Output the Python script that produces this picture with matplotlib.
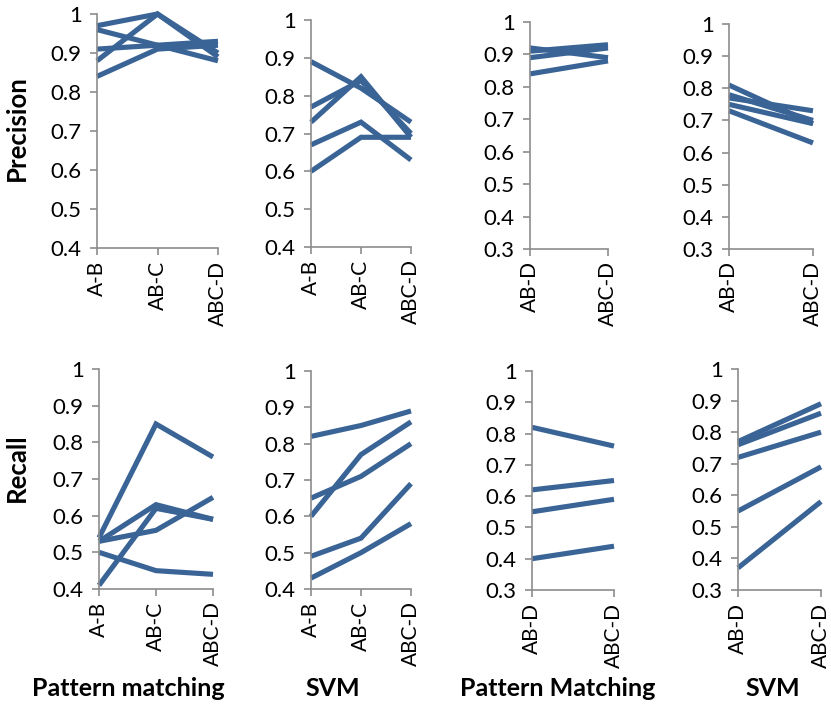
import matplotlib
matplotlib.use("Agg")
import matplotlib.pyplot as plt

plt.rcParams['font.family'] = ['Lato', 'DejaVu Sans']

# categories
cats3 = ['A-B', 'AB-C', 'ABC-D']
cats2 = ['AB-D', 'ABC-D']

# precision, pattern matching (3 steps)
prec_pm3 = [[0.97, 1.00, 0.90],
            [0.96, 0.92, 0.88],
            [0.91, 0.92, 0.93],
            [0.88, 1.00, 0.89],
            [0.84, 0.91, 0.92]]
# precision, SVM (3 steps)
prec_svm3 = [[0.89, 0.82, 0.73],
             [0.77, 0.84, 0.70],
             [0.73, 0.85, 0.69],
             [0.67, 0.73, 0.63],
             [0.60, 0.69, 0.69]]
# precision, pattern matching (2 steps)
prec_pm2 = [[0.92, 0.89],
            [0.91, 0.93],
            [0.89, 0.92],
            [0.84, 0.88]]
# precision, SVM (2 steps)
prec_svm2 = [[0.81, 0.69],
             [0.78, 0.70],
             [0.77, 0.73],
             [0.75, 0.69],
             [0.73, 0.63]]

# recall, pattern matching (3 steps)
rec_pm3 = [[0.54, 0.85, 0.76],
           [0.53, 0.63, 0.59],
           [0.53, 0.56, 0.65],
           [0.50, 0.45, 0.44],
           [0.41, 0.62, 0.59]]
# recall, SVM (3 steps)
rec_svm3 = [[0.82, 0.85, 0.89],
            [0.65, 0.71, 0.80],
            [0.60, 0.77, 0.86],
            [0.49, 0.54, 0.69],
            [0.43, 0.50, 0.58]]
# recall, pattern matching (2 steps)
rec_pm2 = [[0.82, 0.76],
           [0.62, 0.65],
           [0.55, 0.59],
           [0.40, 0.44]]
# recall, SVM (2 steps)
rec_svm2 = [[0.77, 0.89],
            [0.76, 0.86],
            [0.72, 0.80],
            [0.55, 0.69],
            [0.37, 0.58]]

W, H = 831, 718
blue = '#3a6496'
grey = '#8c8c8c'

fig = plt.figure(figsize=(W / 100, H / 100), dpi=100)


def panel(box, cats, series, ymin):
    x1, yt, x2, yb = box
    ax = fig.add_axes([x1 / W, 1 - yb / H, (x2 - x1) / W, (yb - yt) / H])
    xs = list(range(len(cats)))
    for s in series:
        ax.plot(xs, s, color=blue, lw=3.7, solid_capstyle='butt',
                solid_joinstyle='miter', clip_on=False)
    ax.set_xlim(0, len(cats) - 1)
    ax.set_ylim(ymin, 1.0)
    ticks = [round(ymin + 0.1 * i, 1) for i in range(int(round((1 - ymin) / 0.1)) + 1)]
    ax.set_yticks(ticks)
    ax.set_yticklabels(['1' if t == 1.0 else f'{t:.1f}' for t in ticks])
    ax.set_xticks(xs)
    ax.set_xticklabels(cats, rotation=90)
    for side in ['top', 'right']:
        ax.spines[side].set_visible(False)
    for side in ['left', 'bottom']:
        ax.spines[side].set_color(grey)
        ax.spines[side].set_linewidth(1.2)
    ax.tick_params(axis='y', colors=grey, labelcolor='black', length=5,
                   width=1.2, labelsize=16, pad=6)
    ax.tick_params(axis='x', colors=grey, labelcolor='black', length=5,
                   width=1.2, labelsize=15, pad=4)
    ax.patch.set_alpha(0)
    return ax


panel((97, 14, 218, 248), cats3, prec_pm3, 0.4)
panel((311, 20, 411, 247), cats3, prec_svm3, 0.4)
panel((530, 22, 608, 249), cats2, prec_pm2, 0.3)
panel((729, 24, 813, 249), cats2, prec_svm2, 0.3)
panel((99, 369, 213, 589), cats3, rec_pm3, 0.4)
panel((311, 371, 411, 589), cats3, rec_svm3, 0.4)
panel((532, 371, 614, 590), cats2, rec_pm2, 0.3)
panel((738, 369, 821, 590), cats2, rec_svm2, 0.3)

fig.text(17 / W, 1 - 128 / H, 'Precision', rotation=90, ha='center', va='center',
         fontsize=18.5, fontweight='bold')
fig.text(17 / W, 1 - 468 / H, 'Recall', rotation=90, ha='center', va='center',
         fontsize=18.5, fontweight='bold')
for label, xc in [('Pattern matching', 128), ('SVM', 333),
                  ('Pattern Matching', 558), ('SVM', 773)]:
    fig.text(xc / W, 1 - 688 / H, label, ha='center', va='center',
             fontsize=18, fontweight='bold')

fig.savefig('out.png', dpi=100)
